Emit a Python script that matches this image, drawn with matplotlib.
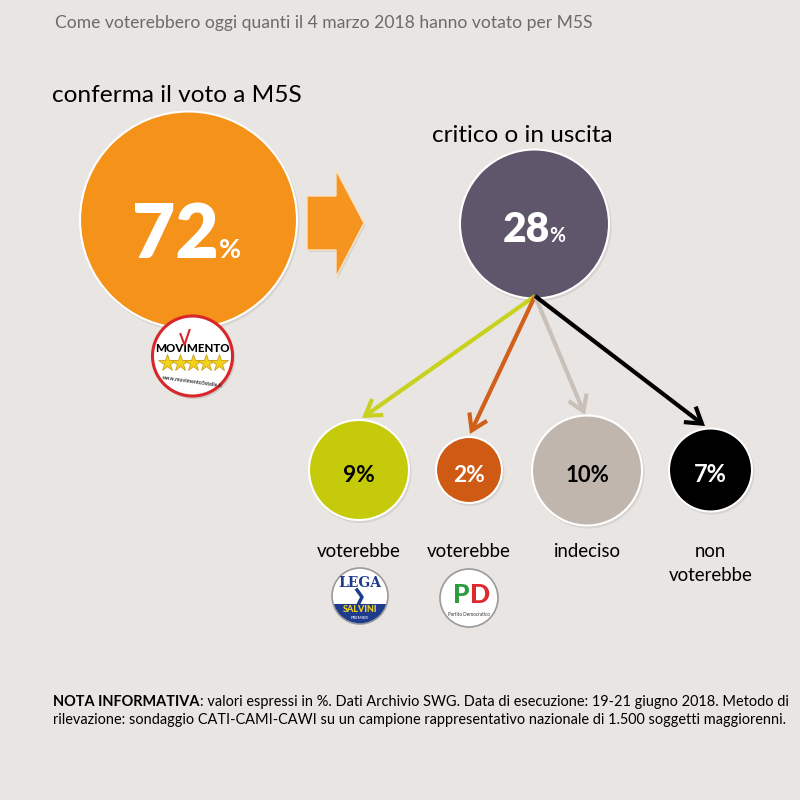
import matplotlib
matplotlib.use("Agg")
import matplotlib.pyplot as plt
from matplotlib.patches import Circle, Polygon, FancyArrowPatch, Rectangle
import numpy as np

plt.rcParams['font.family'] = ['Lato', 'DejaVu Sans']

# ---------------- data ----------------
title = "Come voterebbero oggi quanti il 4 marzo 2018 hanno votato per M5S"
main_labels = ["conferma il voto a M5S", "critico o in uscita"]
main_values = [72, 28]
sub_labels = ["voterebbe", "voterebbe", "indeciso", "non\nvoterebbe"]
sub_values = [9, 2, 10, 7]
note_bold = "NOTA INFORMATIVA"
note_line1 = ": valori espressi in %. Dati Archivio SWG. Data di esecuzione: 19-21 giugno 2018. Metodo di"
note_line2 = "rilevazione: sondaggio CATI-CAMI-CAWI su un campione rappresentativo nazionale di 1.500 soggetti maggiorenni."

# ---------------- layout / style ----------------
BG = "#E8E5E2"
main_colors = ["#F5921A", "#5F566B"]
main_centers = [(188.5, 220), (534.5, 224)]
main_radii = [108.5, 74.5]
sub_colors = ["#C5CB0A", "#CF5A13", "#C0B6AE", "#000000"]
arrow_colors = ["#C8D21E", "#D0601A", "#C9C1B9", "#000000"]
sub_text_colors = ["black", "white", "black", "white"]
sub_centers = [(359, 470), (469, 470), (587, 470.5), (710.5, 470)]
sub_radii = [50, 33, 55, 41.5]
arrow_tips = [(362, 418), (470, 434), (585, 415), (705, 426)]
arrow_origin = (535, 296)

fig = plt.figure(figsize=(8, 8), dpi=100)
fig.patch.set_facecolor(BG)
ax = fig.add_axes([0, 0, 1, 1])
ax.set_xlim(0, 800)
ax.set_ylim(800, 0)
ax.set_aspect('equal')
ax.axis('off')
ax.set_facecolor(BG)
renderer = fig.canvas.get_renderer()


def fit(x, y, s, target_w, ha='left', va='baseline', **kw):
    t = ax.text(x, y, s, fontsize=10, ha=ha, va=va, **kw)
    w = t.get_window_extent(renderer).width
    t.set_fontsize(10 * target_w / w)
    return t


def circ(c, r, color, ec='white', lw=1.5, z=2, shadow=True):
    if shadow:
        ax.add_patch(Circle((c[0] + 1.5, c[1] + 2), r + 1, color='#b9b4b0', alpha=0.35, lw=0, zorder=z - 0.1))
    ax.add_patch(Circle(c, r, facecolor=color, edgecolor=ec, lw=lw, zorder=z))


# title
fit(55, 28, title, 539, color="#6b6b6b")
# headers
fit(52, 102, main_labels[0], 250, color="black")
fit(432, 142, main_labels[1], 181, color="black")

# main circles
for c, r, col in zip(main_centers, main_radii, main_colors):
    circ(c, r, col)

# 72%
fit(219, 258, f"{main_values[0]}", 86, ha='right', color='white', fontweight='heavy', zorder=5)
fit(219, 258, "%", 22, ha='left', color='white', fontweight='bold', zorder=5)
# 28%
fit(550, 242, f"{main_values[1]}", 47, ha='right', color='white', fontweight='heavy', zorder=5)
fit(549, 242, "%", 16, ha='left', color='white', fontweight='bold', zorder=5)

# big block arrow
arrow_pts = [(307, 196), (336, 196), (336, 170), (364, 223), (336, 277), (336, 250), (307, 250)]
ax.add_patch(Polygon([(x + 1.5, y + 2) for x, y in arrow_pts], closed=True, color='#bdb8b4', alpha=0.4, lw=0, zorder=1.9))
ax.add_patch(Polygon(arrow_pts, closed=True, facecolor="#F5951F", edgecolor='#fbe3c5', lw=1, zorder=2))

# M5S logo
m5c = (192.5, 356)
ax.add_patch(Circle((m5c[0] + 1.5, m5c[1] + 2), 41, color='#a9a4a0', alpha=0.4, lw=0, zorder=5.9))
ax.add_patch(Circle(m5c, 40, facecolor='white', edgecolor='#D8262B', lw=2.2, zorder=6))
ax.text(m5c[0], m5c[1] - 8, "MOVIMENTO", ha='center', va='center', fontsize=8.3, fontweight='black',
        color='black', zorder=7)
ax.plot([m5c[0] - 12, m5c[0] - 8, m5c[0] - 3], [m5c[1] - 22, m5c[1] - 11, m5c[1] - 26], color='#D8262B', lw=1.5, zorder=8)
for i in range(5):
    ax.plot(m5c[0] - 26 + i * 13, m5c[1] + 7, marker='*', markersize=13, color='#F3D21A',
            markeredgecolor='#C9A11A', markeredgewidth=0.6, zorder=7)
ax.text(m5c[0], m5c[1] + 26, "www.movimento5stelle.it", ha='center', va='center', fontsize=3.8,
        fontweight='bold', color='#333333', rotation=-8, zorder=7)

# branch arrows
for tip, col in zip(arrow_tips, arrow_colors):
    ar = FancyArrowPatch(arrow_origin, tip, arrowstyle='->,head_length=0.55,head_width=0.35',
                         mutation_scale=20, color=col, lw=3, zorder=3, shrinkA=0, shrinkB=0,
                         joinstyle='miter', capstyle='butt')
    ax.add_patch(ar)

# sub circles
sub_text_widths = [32, 32, 44, 33]
for c, r, col, v, tc, w in zip(sub_centers, sub_radii, sub_colors, sub_values, sub_text_colors, sub_text_widths):
    circ(c, r, col, z=4)
    fit(c[0], 482, f"{v}%", w, ha='center', color=tc, fontweight='bold', zorder=5)

# labels below
lab0 = fit(sub_centers[0][0], 557, sub_labels[0], 85, ha='center', color='black')
fs_lab = lab0.get_fontsize()
for c, s in zip(sub_centers[1:], sub_labels[1:]):
    for k, line in enumerate(s.split("\n")):
        ax.text(c[0], 557 + 24 * k, line, ha='center', va='baseline', fontsize=fs_lab, color='black')

# Lega logo
lc = (360, 596)
ax.add_patch(Circle(lc, 28, facecolor='white', edgecolor='#9a9a9a', lw=1.2, zorder=6))
band = Rectangle((lc[0] - 28, lc[1] + 8), 56, 22, facecolor='#1F3C8C', lw=0, zorder=6.5)
ax.add_patch(band)
band.set_clip_path(Circle(lc, 27.3, transform=ax.transData))
ax.text(lc[0], lc[1] - 13, "LEGA", ha='center', va='center', fontsize=10, fontweight='bold',
        color='#1F3C8C', fontfamily=['DejaVu Serif'], zorder=7)
ax.plot([lc[0] - 3, lc[0] + 2, lc[0] - 1], [lc[1] - 6, lc[1] + 1, lc[1] + 7], color='#1F3C8C', lw=2.5, zorder=7)
ax.text(lc[0], lc[1] + 14, "SALVINI", ha='center', va='center', fontsize=6.5, fontweight='black',
        color='#F2D21A', zorder=7)
ax.text(lc[0], lc[1] + 22, "PREMIER", ha='center', va='center', fontsize=3, fontweight='bold',
        color='#cfd6ea', zorder=7)

# PD logo
pc = (469, 598)
ax.add_patch(Circle(pc, 29, facecolor='white', edgecolor='#9a9a9a', lw=1.2, zorder=6))
ax.text(pc[0] + 0.5, pc[1] - 3, "P", ha='right', va='center', fontsize=19, fontweight='black',
        color='#2E9B3E', zorder=7)
ax.text(pc[0] + 0.5, pc[1] - 3, "D", ha='left', va='center', fontsize=19, fontweight='black',
        color='#DE2A2F', zorder=7)
ax.text(pc[0], pc[1] + 17, "Partito Democratico", ha='center', va='center', fontsize=3.3,
        color='#333333', zorder=7)

# notes
tb = ax.text(53, 706, note_bold, fontsize=10, fontweight='bold', ha='left', va='baseline', color='black')
tr = ax.text(53, 706, note_line1, fontsize=10, ha='left', va='baseline', color='black')
wb = tb.get_window_extent(renderer).width
wr = tr.get_window_extent(renderer).width
fs = 10 * 736 / (wb + wr)
tb.set_fontsize(fs)
tr.set_fontsize(fs)
wb2 = tb.get_window_extent(renderer).width
tr.set_position((53 + wb2, 706))
ax.text(53, 724, note_line2, fontsize=fs, ha='left', va='baseline', color='black')

fig.savefig("out.png", dpi=100, facecolor=BG)
